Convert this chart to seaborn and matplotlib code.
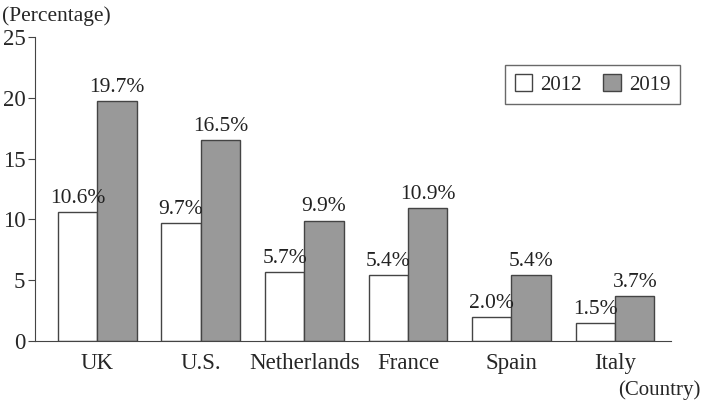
import matplotlib.pyplot as plt
import pandas as pd
import seaborn as sns

countries = ['UK', 'U.S.', 'Netherlands', 'France', 'Spain', 'Italy']
values_2012 = [10.6, 9.7, 5.7, 5.4, 2.0, 1.5]
values_2019 = [19.7, 16.5, 9.9, 10.9, 5.4, 3.7]
years = ['2012', '2019']

df = pd.DataFrame({
    'country': countries * 2,
    'year': [years[0]] * len(countries) + [years[1]] * len(countries),
    'value': values_2012 + values_2019,
})

sns.set_style('white')
plt.rcParams['font.family'] = ['Liberation Serif', 'DejaVu Serif']

fig = plt.figure(figsize=(7.03, 4.01), dpi=100)
ax = fig.add_axes([0.0498, 0.1496, 0.9047, 0.758])

sns.barplot(data=df, x='country', y='value', hue='year', order=countries, hue_order=years,
            palette={'2012': 'white', '2019': '#999999'}, width=0.76, gap=0,
            edgecolor='#444444', linewidth=1.0, saturation=1, ax=ax)

for container in ax.containers:
    ax.bar_label(container, fmt='%.1f%%', padding=3, fontsize=15.5, color='#222222')

ax.set_xlim(-0.6, 5.54)
ax.set_ylim(0, 25)
ax.set_yticks([0, 5, 10, 15, 20, 25])
ax.set_xlabel('')
ax.set_ylabel('')
sns.despine(ax=ax)
ax.spines['left'].set_color('#444444')
ax.spines['bottom'].set_color('#444444')
ax.tick_params(axis='y', left=True, length=5, color='#444444', labelsize=16.5, pad=2)
ax.tick_params(axis='x', bottom=False, labelsize=16.5, pad=5)

leg = ax.legend(loc='upper right', bbox_to_anchor=(0.967, 0.838), bbox_transform=fig.transFigure,
                borderaxespad=0, ncol=2, fontsize=15, frameon=True, fancybox=False, title=None,
                handlelength=0.85, handleheight=0.85, columnspacing=1.0, handletextpad=0.4,
                borderpad=0.45)
leg.get_frame().set_edgecolor('#444444')
leg.get_frame().set_linewidth(1.0)

fig.text(0.003, 0.96, '(Percentage)', fontsize=15.5, ha='left', va='center')
fig.text(0.997, 0.026, '(Country)', fontsize=15, ha='right', va='center')

fig.savefig('out.png', dpi=100)
